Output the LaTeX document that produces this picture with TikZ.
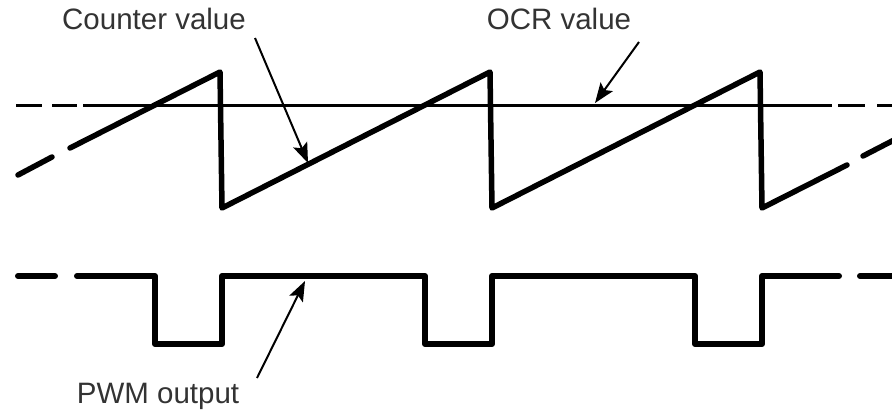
\documentclass[tikz,border=0pt]{standalone}
\usepackage{fontspec}
\setmainfont{Liberation Sans}
\usepackage{tikz}
\usetikzlibrary{arrows.meta}

\begin{document}
\begin{tikzpicture}[x=1pt, y=-1pt, >=Stealth,
    lbl/.style={anchor=base, inner sep=0pt, text=black!80,
        font=\fontsize{29.5}{34}\selectfont},
    saw/.style={line width=5.5pt, line join=round, line cap=round},
    ocr/.style={line width=3pt},
    pwm/.style={line width=6pt, line join=round, line cap=round},
    ptr/.style={->, line width=2pt, >={Stealth[length=20pt, width=15pt, inset=4pt]}}]

\useasboundingbox (0,0) rectangle (892,413);

\def\per{270}
\def\hi{276}
\def\lo{344}

% OCR level
\draw[ocr] (16,105) -- (42,105);
\draw[ocr] (52,105) -- (77,105);
\draw[ocr] (83,105) -- (832,105);
\draw[ocr] (838,105) -- (865,105);
\draw[ocr] (877,105) -- (892,105);

% Counter (sawtooth)
\draw[saw] (18,175) -- (52,157);
\draw[saw] (70,148)
    \foreach \k in {0,1,2} { -- ({220+\k*\per},72) -- ({222+\k*\per},208) }
    -- (847,165);
\draw[saw] (863,156) -- (894,140);

% PWM output
\draw[pwm] (18,\hi) -- (55,\hi);
\draw[pwm] (77,\hi)
    \foreach \k in {0,1,2} { -- ({155+\k*\per},\hi) -- ({155+\k*\per},\lo)
        -- ({222+\k*\per},\lo) -- ({222+\k*\per},\hi) }
    -- (839,\hi);
\draw[pwm] (860,\hi) -- (895,\hi);

% Labels
\node[lbl] (cnt) at (154,29) {Counter value};
\node[lbl] (ocrv) at (559,29) {OCR value};
\node[lbl] (pwmo) at (158,403) {PWM output};

% Pointers
\coordinate (cntfrom) at (255,38);
\coordinate (cnttip) at (308,163);
\coordinate (ocrfrom) at (639,42);
\coordinate (ocrtip) at (595,103);
\coordinate (pwmfrom) at (257,378);
\coordinate (pwmtip) at (305,281);
\draw[ptr] (cntfrom) -- (cnttip);
\draw[ptr] (ocrfrom) -- (ocrtip);
\draw[ptr] (pwmfrom) -- (pwmtip);

\end{tikzpicture}
\end{document}
